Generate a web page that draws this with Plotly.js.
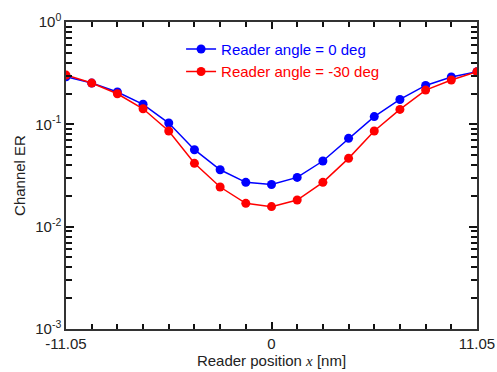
<!DOCTYPE html>
<html>
<head>
<meta charset="utf-8">
<script src="https://cdn.plot.ly/plotly-3.0.1.min.js"></script>
<style>body{margin:0;padding:0;background:#fff}#chart{width:497px;height:372px}</style>
</head>
<body>
<div id="chart"></div>
<script>
const positions = [-11.05, -9.66875, -8.2875, -6.90625, -5.525, -4.14375, -2.7625, -1.38125, 0, 1.38125, 2.7625, 4.14375, 5.525, 6.90625, 8.2875, 9.66875, 11.05];
const erAngle0 = [0.292, 0.253, 0.207, 0.157, 0.103, 0.0565, 0.036, 0.0271, 0.0258, 0.0303, 0.0438, 0.073, 0.119, 0.175, 0.240, 0.290, 0.327];
const erAngle30 = [0.303, 0.253, 0.199, 0.142, 0.086, 0.0416, 0.0244, 0.0169, 0.0157, 0.0182, 0.0271, 0.0465, 0.086, 0.140, 0.216, 0.271, 0.327];
const seriesNames = ['Reader angle = 0 deg', 'Reader angle = -30 deg'];
const xTickVals = [-11.05, 0, 11.05];
const xTickText = ['-11.05', '0', '11.05'];
const yTickVals = [0.001, 0.01, 0.1, 1];
const yTickText = ['10<sup>-3</sup>', '10<sup>-2</sup>', '10<sup>-1</sup>', '10<sup>0</sup>'];
const yMinorTicks = [0.002,0.003,0.004,0.005,0.006,0.007,0.008,0.009,
                     0.02,0.03,0.04,0.05,0.06,0.07,0.08,0.09,
                     0.2,0.3,0.4,0.5,0.6,0.7,0.8,0.9];

const font = "'Liberation Sans', Arial, sans-serif";
const axCol = '#333';
const tkCol = '#111';
const traces = [
  {x: positions, y: erAngle0, name: '<span style="color:#0000ff">' + seriesNames[0] + '</span>', mode: 'lines+markers',
   line: {color: '#0000ff', width: 1.5}, marker: {color: '#0000ff', size: 9}},
  {x: positions, y: erAngle30, name: '<span style="color:#ff0000">' + seriesNames[1] + '</span>', mode: 'lines+markers',
   line: {color: '#ff0000', width: 1.5}, marker: {color: '#ff0000', size: 9}},
  {x: [], y: [], xaxis: 'x2', yaxis: 'y2', showlegend: false, mode: 'markers', hoverinfo: 'skip'}
];
const layout = {
  width: 497, height: 372,
  margin: {l: 66, r: 20, t: 22, b: 43},
  paper_bgcolor: '#fff', plot_bgcolor: '#fff',
  font: {family: font, size: 15, color: '#222'},
  showlegend: true,
  legend: {x: 0.28, y: 0.965, xanchor: 'left', yanchor: 'top', bgcolor: 'rgba(0,0,0,0)', font: {size: 15}, tracegroupgap: 0},
  xaxis: {
    range: [-11.05, 11.05], tickmode: 'array', tickvals: xTickVals, ticktext: xTickText,
    ticks: 'inside', ticklen: 7, tickwidth: 1.5, tickcolor: tkCol, showline: true, linecolor: axCol, linewidth: 1.5,
    mirror: 'ticks', showgrid: false, zeroline: false,
    title: {text: 'Reader position <span style="font-family:\'Liberation Serif\', serif;font-style:italic">x</span> [nm]', standoff: 4, font: {size: 15}},
    automargin: false
  },
  yaxis: {
    type: 'log', range: [-3, 0], tickmode: 'array', tickvals: yTickVals, ticktext: yTickText,
    ticks: 'inside', ticklen: 8, tickwidth: 1.5, tickcolor: tkCol, showline: true, linecolor: axCol, linewidth: 1.5,
    mirror: 'ticks', showgrid: false, zeroline: false,
    title: {text: 'Channel ER', standoff: 6, font: {size: 15}},
    automargin: false
  },
  xaxis2: {
    overlaying: 'x', anchor: 'y2', side: 'bottom', range: [-11.05, 11.05],
    tickmode: 'array', tickvals: positions, showticklabels: false,
    ticks: 'inside', ticklen: 5, tickwidth: 1.5, tickcolor: tkCol, showline: true, linecolor: axCol, linewidth: 1.5,
    mirror: 'ticks', showgrid: false, zeroline: false, automargin: false
  },
  yaxis2: {
    overlaying: 'y', anchor: 'x2', side: 'left', type: 'log', range: [-3, 0],
    tickmode: 'array', tickvals: yMinorTicks, showticklabels: false,
    ticks: 'inside', ticklen: 6, tickwidth: 1.5, tickcolor: tkCol, showline: true, linecolor: axCol, linewidth: 1.5,
    mirror: 'ticks', showgrid: false, zeroline: false, automargin: false
  }
};
Plotly.newPlot('chart', traces, layout, {displayModeBar: false});
</script>
</body>
</html>
